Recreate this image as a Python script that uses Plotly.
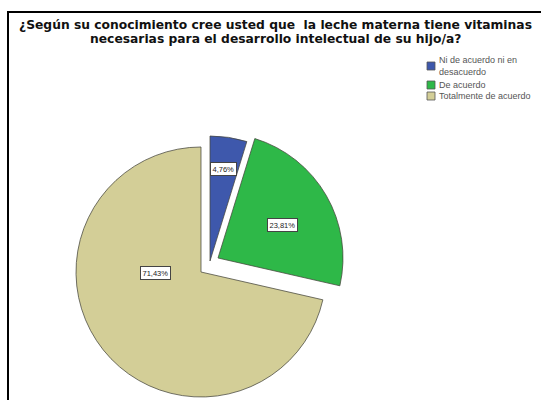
import plotly.graph_objects as go

# Survey answers and their shares (%)
categories = ["Ni de acuerdo ni en desacuerdo", "De acuerdo", "Totalmente de acuerdo"]
legend_labels = ["Ni de acuerdo ni en<br>desacuerdo", "De acuerdo", "Totalmente de acuerdo"]
percentages = [4.76, 23.81, 71.43]
colors = ["#3E58AC", "#2EB848", "#D3CE97"]

title_lines = ["¿Según su conocimiento cree usted que  la leche materna tiene vitaminas",
               "necesarias para el desarrollo intelectual de su hijo/a?"]

W, H = 541, 400
CX, CY, R = 201, 272, 125      # pie centre and radius in pixels
# Explode offset (dx, dy) in pixels for each slice
EXPLODE = [(9, -11), (17, -14), (0, 0)]


def px_x(x):
    return x / W


def px_y(y):
    return 1 - y / H


fig = go.Figure()

# Each slice is drawn by its own pie so exploded slices can be moved
# while keeping the full radius.
for i, v in enumerate(percentages):
    dx, dy = EXPLODE[i]
    cx, cy = CX + dx, CY + dy
    slice_colors = [c if j == i else "rgba(0,0,0,0)" for j, c in enumerate(colors)]
    line_colors = ["rgba(70,70,60,0.75)" if j == i else "rgba(0,0,0,0)" for j in range(len(colors))]
    fig.add_trace(go.Pie(
        labels=categories,
        values=percentages,
        sort=False,
        direction="clockwise",
        rotation=0,
        marker=dict(colors=slice_colors, line=dict(color=line_colors, width=1)),
        textinfo="none",
        hoverinfo="skip",
        showlegend=False,
        domain=dict(x=[px_x(cx - R), px_x(cx + R)], y=[px_y(cy + R), px_y(cy - R)]),
    ))

# Percentage boxes on the slices
label_pos = [(223, 169), (282, 225), (155, 273)]
for (lx, ly), v in zip(label_pos, percentages):
    fig.add_annotation(
        x=px_x(lx), y=px_y(ly), xref="paper", yref="paper",
        xanchor="center", yanchor="middle",
        text=f"{v:.2f}%".replace(".", ","),
        showarrow=False,
        font=dict(family="Liberation Sans, Arial, sans-serif", size=7.5, color="#222"),
        bgcolor="white", bordercolor="#444", borderwidth=1, borderpad=1.5,
    )

# Legend: swatches and category names
legend_rows = [66, 85, 96]
for c, name, ry in zip(colors, legend_labels, legend_rows):
    fig.add_shape(type="rect", xref="paper", yref="paper",
                  x0=px_x(427), x1=px_x(435), y0=px_y(ry + 4), y1=px_y(ry - 4),
                  fillcolor=c, line=dict(color="#555", width=0.8))
    fig.add_annotation(
        x=px_x(437), y=px_y(ry), xref="paper", yref="paper",
        text=name, showarrow=False, xanchor="left", yanchor="middle", align="left",
        font=dict(family="Liberation Sans, Arial, sans-serif", size=9, color="#555"),
    )

# Title, two centred lines
for line, ty in zip(title_lines, [25, 39]):
    fig.add_annotation(
        x=px_x(275), y=px_y(ty), xref="paper", yref="paper",
        text=f"<b>{line}</b>", showarrow=False, xanchor="center", yanchor="middle",
        font=dict(family="DejaVu Sans, sans-serif", size=12.3, color="#111"),
    )

# Chart frame
fig.add_shape(type="rect", xref="paper", yref="paper",
              x0=px_x(8), x1=1.05, y0=-0.05, y1=px_y(12),
              line=dict(color="black", width=2), fillcolor="rgba(0,0,0,0)")

fig.update_layout(
    width=W, height=H,
    margin=dict(l=0, r=0, t=0, b=0),
    paper_bgcolor="white",
    plot_bgcolor="white",
    showlegend=False,
)

fig.write_html("out.html")
